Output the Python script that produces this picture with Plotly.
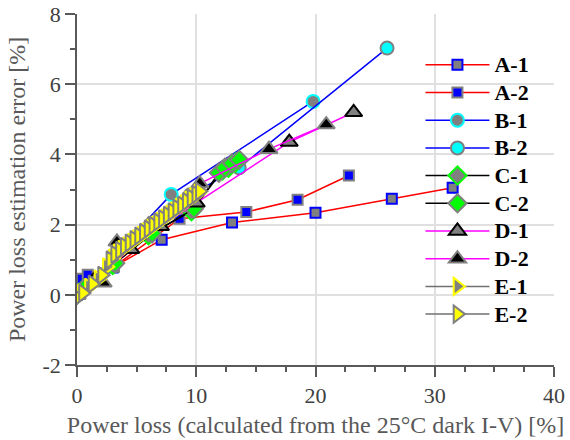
import plotly.graph_objects as go

# ---- data ----
a1_x = [0.0, 3.0, 7.1, 13.0, 20.0, 26.4, 31.5]
a1_y = [0.0, 0.78, 1.57, 2.06, 2.34, 2.74, 3.05]
a2_x = [0.4, 0.9, 3.1, 8.6, 14.2, 18.5, 22.8]
a2_y = [0.46, 0.57, 0.8, 2.17, 2.36, 2.71, 3.40]
b1_x = [0.0, 7.9, 19.8]
b1_y = [0.0, 2.86, 5.51]
b2_x = [0.0, 9.5, 13.6, 26.0]
b2_y = [0.0, 2.85, 3.62, 7.03]
c1_x = [0.0, 0.5, 3.0, 6.0, 9.6, 12.2, 12.7, 13.3]
c1_y = [0.0, 0.15, 0.85, 1.7, 2.38, 3.54, 3.62, 3.77]
c2_x = [0.0, 0.6, 3.2, 6.3, 9.8, 11.9, 12.4, 13.0, 13.6]
c2_y = [0.0, 0.18, 0.9, 1.75, 2.45, 3.48, 3.62, 3.75, 3.85]
d1_x = [0.0, 1.5, 4.5, 7.0, 10.0, 17.8, 23.2]
d1_y = [0.0, 0.45, 1.3, 1.95, 2.62, 4.35, 5.2]
d2_x = [0.0, 2.2, 3.35, 6.0, 10.3, 16.1, 20.9]
d2_y = [0.0, 0.34, 1.51, 2.0, 3.17, 4.15, 4.85]
e1_x = [0.0, 0.4, 1.0, 1.8, 2.5, 3.0, 3.4, 3.8, 4.2, 4.6, 5.0, 5.4, 5.8, 6.2, 6.6, 7.0, 7.4, 7.8, 8.2, 8.6, 9.0, 9.4, 9.8, 10.2]
e1_y = [-0.05, 0.05, 0.22, 0.45, 0.8, 1.05, 1.2, 1.3, 1.4, 1.5, 1.6, 1.7, 1.8, 1.9, 2.0, 2.1, 2.2, 2.3, 2.4, 2.5, 2.6, 2.7, 2.8, 2.9]
e2_x = [0.0, 0.5, 1.3, 2.1, 2.8, 3.2, 3.6, 4.0, 4.4, 4.8, 5.2, 5.6, 6.0, 6.4, 6.8, 7.2, 7.6, 8.0, 8.4, 8.8, 9.2, 9.6, 10.0, 10.3]
e2_y = [-0.08, 0.05, 0.31, 0.56, 1.0, 1.15, 1.27, 1.38, 1.48, 1.58, 1.68, 1.78, 1.88, 1.98, 2.08, 2.17, 2.27, 2.37, 2.47, 2.56, 2.66, 2.76, 2.86, 2.95]

x_ticks = [0, 10, 20, 30, 40]
x_ticktext = ["0", "10", "20", "30", "40"]
y_ticks = [-2, 0, 2, 4, 6, 8]
y_ticktext = ["-2", "0", "2", "4", "6", "8"]

GRAY = "#808080"

series = [
    ("A-1", a1_x, a1_y, "#FF0000", "square", 10, GRAY, "#0000FF"),
    ("A-2", a2_x, a2_y, "#FF0000", "square", 10, "#0000FF", GRAY),
    ("B-1", b1_x, b1_y, "#0000FF", "circle", 13, GRAY, "#00FFFF"),
    ("B-2", b2_x, b2_y, "#0000FF", "circle", 13, "#00FFFF", GRAY),
    ("C-1", c1_x, c1_y, "#000000", "diamond", 14, GRAY, "#00FF00"),
    ("C-2", c2_x, c2_y, "#000000", "diamond", 14, "#00FF00", GRAY),
    ("D-1", d1_x, d1_y, "#FF00FF", "triangle-up", 15, GRAY, "#000000"),
    ("D-2", d2_x, d2_y, "#FF00FF", "triangle-up", 15, "#000000", GRAY),
    ("E-1", e1_x, e1_y, "#707070", "triangle-right", 15, GRAY, "#FFFF00"),
    ("E-2", e2_x, e2_y, "#707070", "triangle-right", 15, "#FFFF00", GRAY),
]

FONT = "Liberation Serif, Times New Roman, serif"

fig = go.Figure()
for name, xs, ys, lc, sym, sz, fill, edge in series:
    fig.add_trace(go.Scatter(
        x=xs, y=ys, mode="lines+markers",
        name='<span style="font-size:22px">' + name + "</span>",
        line=dict(color=lc, width=1.5),
        marker=dict(symbol=sym, size=sz, color=fill, line=dict(color=edge, width=2)),
    ))

AX = "#595959"
fig.update_layout(
    width=570, height=440,
    margin=dict(l=77, r=16, t=14, b=75),
    plot_bgcolor="white", paper_bgcolor="white",
    font=dict(family=FONT, size=20, color="#404040"),
    showlegend=True,
    legend=dict(
        x=0.72, y=0.909, xanchor="left", yanchor="top",
        bgcolor="rgba(0,0,0,0)",
        font=dict(family=FONT, size=19, color="#000000", weight="bold"),
        itemwidth=64, tracegroupgap=0,
    ),
    xaxis=dict(
        range=[0, 40], tickvals=x_ticks, ticktext=x_ticktext, ticks="outside", ticklen=10, tickwidth=1.5,
        tickcolor=AX, showline=True, linecolor=AX, linewidth=1.5, automargin=False,
        showgrid=True, gridcolor="#e0e0e0", gridwidth=1.5, zeroline=False,
        minor=dict(dtick=2.5, ticks="outside", ticklen=5, tickcolor=AX, tickwidth=1.5, showgrid=False),
        title=dict(text="Power loss (calculated from the 25°C dark I-V) [%]", standoff=9,
                   font=dict(family=FONT, size=24, color=AX)),
        tickfont=dict(family=FONT, size=22, color="#404040"),
    ),
    yaxis=dict(
        range=[-2, 8], tickvals=y_ticks, ticktext=y_ticktext, ticks="outside", ticklen=10, tickwidth=1.5,
        tickcolor=AX, showline=True, linecolor=AX, linewidth=1.5, automargin=False,
        showgrid=True, gridcolor="#e0e0e0", gridwidth=1.5, zeroline=False,
        minor=dict(dtick=1, ticks="outside", ticklen=5, tickcolor=AX, tickwidth=1.5, showgrid=False),
        title=dict(text="Power loss estimation error [%]", standoff=10,
                   font=dict(family=FONT, size=24, color=AX)),
        tickfont=dict(family=FONT, size=22, color="#404040"),
    ),
)

fig.write_html("out.html")
